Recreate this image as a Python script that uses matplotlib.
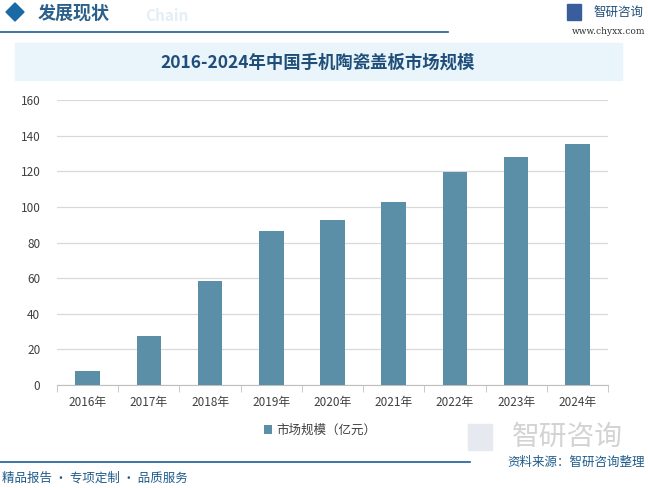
import matplotlib.pyplot as plt
from matplotlib.patches import Rectangle, Polygon
import numpy as np

plt.rcParams['font.family'] = ['Noto Sans CJK SC', 'DejaVu Sans']

years = ['2016年', '2017年', '2018年', '2019年', '2020年', '2021年', '2022年', '2023年', '2024年']
values = [8, 27.5, 58.5, 86.5, 92.8, 102.8, 119.7, 128.2, 135.5]
yticks = [0, 20, 40, 60, 80, 100, 120, 140, 160]

titulo = "2016-2024年中国手机陶瓷盖板市场规模"
serie = "市场规模（亿元）"

W, H = 648, 488
fig = plt.figure(figsize=(W / 100, H / 100), dpi=100)
fig.patch.set_facecolor('white')

def fx(px):
    return px / W

def fy(py):
    return 1 - py / H

# cabecalho
fig.patches.append(Polygon([[fx(6), fy(12)], [fx(15), fy(3)], [fx(24), fy(12)], [fx(15), fy(21)]],
                           closed=True, transform=fig.transFigure, color='#1A6AA5'))
fig.text(fx(38), fy(13), "发展现状", fontsize=13, fontweight='bold', color='#2B5F8C', va='center')
fig.text(fx(145), fy(16), "Chain", fontsize=11, fontweight='bold', color='#E3EEF7', va='center')
fig.lines.append(plt.Line2D([0, fx(448)], [fy(32), fy(32)], transform=fig.transFigure,
                            color='#1A5E96', lw=1.2))
fig.text(fx(593), fy(12), "智研咨询", fontsize=9, color='#1F4E79', va='center')
fig.patches.append(Rectangle((fx(567), fy(20)), fx(14), 16 / H, transform=fig.transFigure,
                             color='#3A5E9C'))
fig.text(fx(645), fy(32), "www.chyxx.com", fontsize=6.5, color='#333333', va='center', ha='right',
         family='DejaVu Serif')

# titulo
fig.patches.append(Rectangle((fx(15), fy(80)), fx(607), 37 / H, transform=fig.transFigure,
                             color='#EAF4FB', zorder=0))
fig.text(fx(318), fy(63), titulo, fontsize=12.5, fontweight='bold', color='#1F4E79',
         ha='center', va='center')

# grafico
ax = fig.add_axes([fx(57), fy(385), fx(608 - 57), (385 - 100) / H])
x = np.arange(len(years))
ax.bar(x, values, width=0.4, color='#5B8FA8', label=serie, zorder=3)
ax.set_xlim(-0.5, len(years) - 0.5)
ax.set_ylim(0, 160)
ax.set_yticks(yticks)
ax.set_xticks(x)
ax.set_xticklabels(years)
ax.set_xticks(np.arange(-0.5, len(years), 1), minor=True)
ax.tick_params(axis='x', which='major', length=0, pad=8, labelsize=8.5, colors='#404040')
ax.tick_params(axis='x', which='minor', length=5, color='#BFBFBF')
ax.tick_params(axis='y', length=0, pad=12, labelsize=8.5, colors='#404040')
ax.grid(axis='y', color='#D9D9D9', lw=0.9, zorder=0)
for s in ['left', 'right', 'top']:
    ax.spines[s].set_visible(False)
ax.spines['bottom'].set_color('#BFBFBF')
ax.patch.set_alpha(0)

ax.legend(loc='center', bbox_to_anchor=(0.477, -0.158), frameon=False, fontsize=9,
          handlelength=0.7, handleheight=0.7, handletextpad=0.3, labelcolor='#404040')

# rodape
fig.patches.append(Rectangle((fx(468), fy(450)), fx(24), 26 / H, transform=fig.transFigure,
                             color='#E6E9F0', zorder=0))
fig.text(fx(567), fy(437), "智研咨询", fontsize=20, color='#D3D3D3', ha='center', va='center')
fig.lines.append(plt.Line2D([0, fx(470)], [fy(462), fy(462)], transform=fig.transFigure,
                            color='#1A5E96', lw=1.2))
fig.text(fx(645), fy(462), "资料来源：智研咨询整理", fontsize=9, color='#1F5C8B', ha='right', va='center')
fig.text(fx(2), fy(478), "精品报告 · 专项定制 · 品质服务", fontsize=9, color='#1F5C8B', ha='left', va='center')

plt.savefig("out.png", dpi=100)
